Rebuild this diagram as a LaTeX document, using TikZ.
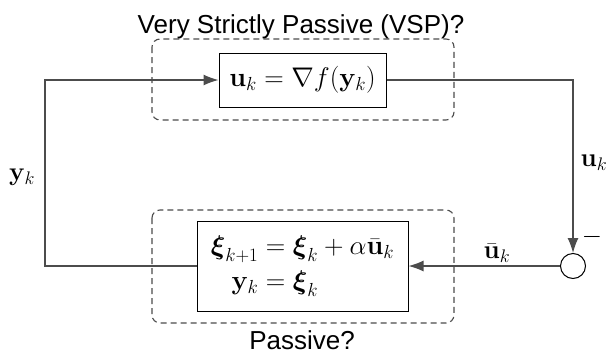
\RequirePackage{fix-cm}
\documentclass[tikz,border=0pt]{standalone}
\usepackage{amsmath}
\usepackage[no-math]{fontspec}
\setmainfont{Liberation Sans}
\usetikzlibrary{arrows.meta}
\tikzset{
  blk/.style={draw=black, line width=1pt, inner sep=0pt, font=\fontsize{27}{32}\selectfont},
  conn/.style={draw=black!70, line width=1.3pt},
  arr/.style={-{Latex[length=15pt,width=11pt]}},
  dbox/.style={draw=black!70, line width=1.1pt, dash pattern=on 6pt off 4pt, rounded corners=8pt},
  lbl/.style={inner sep=0pt}
}
\begin{document}
\begin{tikzpicture}[x=1pt,y=-1pt,font=\fontsize{26}{31}\selectfont]
\useasboundingbox (0,0) rectangle (608,354);
% dashed regions
\draw[dbox] (152,39) rectangle (454,120);
\draw[dbox] (152,210) rectangle (454,323);
% titles
\node[lbl,anchor=base] (t1) at (301,33) {Very Strictly Passive (VSP)?};
\node[lbl,anchor=base] (t2) at (302,349) {Passive?};
% blocks
\node[blk, minimum width=167, minimum height=54] (f) at (302.5,80) {$\mathbf{u}_k = \nabla f(\mathbf{y}_k)$};
\node[blk, minimum width=211, minimum height=90] (g) at (302.5,266) {$\begin{aligned}\boldsymbol{\xi}_{k+1} &= \boldsymbol{\xi}_k + \alpha\bar{\mathbf{u}}_k\\ \mathbf{y}_k &= \boldsymbol{\xi}_k\end{aligned}$};
\node[circle, draw=black, line width=1pt, minimum size=25, inner sep=0pt] (s) at (573,266) {};
\coordinate (c1) at (45,80);
% connectors
\draw[conn,arr] (g.west) -| (c1) -- (f.west);
\draw[conn,arr] (f.east) -| (s.north);
\draw[conn,arr] (s.west) -- (g.east);
% labels
\node[lbl] (ly) at (22,177) {$\mathbf{y}_k$};
\node[lbl] (lu) at (594,163) {$\mathbf{u}_k$};
\node[lbl] (lub) at (497,253) {$\bar{\mathbf{u}}_k$};
\node[lbl] (lm) at (592,237) {$-$};
\end{tikzpicture}
\end{document}
